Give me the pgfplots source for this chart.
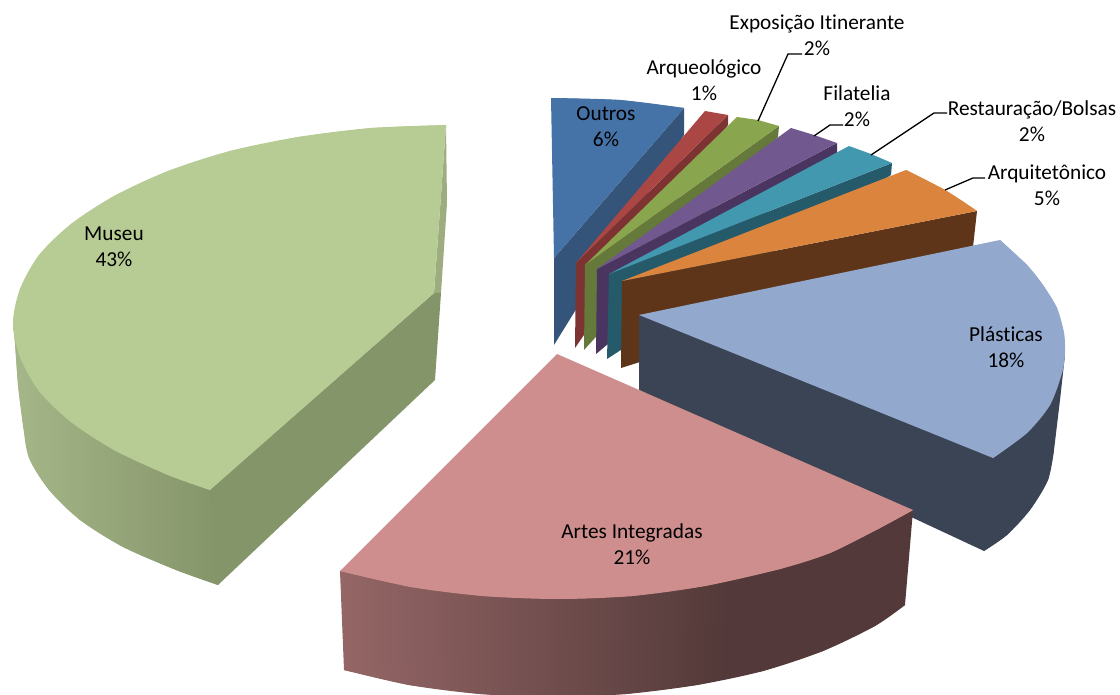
\documentclass[border=0pt]{standalone}
\usepackage{pgfplots}
\usepackage{fontspec}
\setmainfont[Ligatures=NoCommon]{Carlito}
\pgfplotsset{compat=1.18}
\tikzset{
  lbl/.style={font=\fontsize{21.3}{26}\selectfont, align=center, inner sep=0pt, anchor=center, text=black},
  lead/.style={draw=black, line width=1.3pt, fill=none},
}
\definecolor{outT}{HTML}{4573A7}\definecolor{outS}{HTML}{35547A}
\definecolor{redT}{HTML}{AA4644}\definecolor{redS}{HTML}{7D3332}
\definecolor{grnT}{HTML}{89A54E}\definecolor{grnS}{HTML}{64793A}
\definecolor{purT}{HTML}{71588F}\definecolor{purS}{HTML}{4A3560}
\definecolor{teaT}{HTML}{4298AF}\definecolor{teaS}{HTML}{255A6A}
\definecolor{ornT}{HTML}{DB843D}\definecolor{ornS}{HTML}{5F3519}
\definecolor{plaT}{HTML}{92A8CD}\definecolor{plaS}{HTML}{3A4454}
\definecolor{artT}{HTML}{CE8E8D}\definecolor{artL}{HTML}{956666}\definecolor{artD}{HTML}{533939}
\definecolor{musT}{HTML}{B7CC94}\definecolor{musL}{HTML}{A5B688}\definecolor{musD}{HTML}{85956A}\definecolor{musM}{HTML}{9DAD7F}
\pgfdeclarehorizontalshading{artshade}{100bp}{color(0bp)=(artL); color(25bp)=(artL); color(59bp)=(artD); color(100bp)=(artD)}
\begin{document}
\begin{tikzpicture}
\path[use as bounding box] (0,0) rectangle (1120pt,695pt);
\begin{axis}[
  scale only axis, width=1120pt, height=695pt, at={(0,0)}, anchor=south west,
  xmin=0, xmax=1120, ymin=0, ymax=695, y dir=reverse,
  hide axis, clip=true,
  every axis plot/.append style={draw=none, no markers},
]
% Outros
\addplot[fill=outS] coordinates {(684,108)(684,135)(554,345)(554,258)};
\addplot[fill=outT] coordinates {(551,98)(620,100)(684,108)(554,258)};
\addplot[fill=outT, smooth] coordinates {(551,98)(620,100)(684,108)};
% Arqueologico
\addplot[fill=redS] coordinates {(728,115)(728,125)(575,348)(576,263)};
\addplot[fill=redT] coordinates {(705,111)(728,115)(576,263)};
% Exposicao
\addplot[fill=grnS] coordinates {(779,126)(778,137)(584,350)(585,265)};
\addplot[fill=grnT] coordinates {(737,117)(758,120)(779,126)(585,265)};
% Filatelia
\addplot[fill=purS] coordinates {(837,143)(837,153)(596,354)(597,269)};
\addplot[fill=purT] coordinates {(791,128)(814,135)(837,143)(597,269)};
% Restauracao
\addplot[fill=teaS] coordinates {(892,163)(891,175)(607,359)(609,274)};
\addplot[fill=teaT] coordinates {(849,146)(871,154)(892,163)(609,274)};
% Arquitetonico
\addplot[fill=ornS] coordinates {(977,211)(973,247)(640,330)(640,362)(621,368)(622,281)};
\addplot[fill=ornT] coordinates {(906,170)(945,190)(977,211)(622,281)};
\addplot[fill=ornT, smooth] coordinates {(906,170)(945,190)(977,211)};
% Plasticas
\addplot[fill=plaS] coordinates {(639,315)(639,390)(984,551)(1007,535)(1030,510)(1048,480)(1054,450)(1060,400)(1065,355)};
\addplot[fill=plaS, smooth] coordinates {(984,551)(1007,535)(1030,510)(1048,480)(1054,450)};
\addplot[fill=plaT] coordinates {(1000,240)(1027,265)(1043,285)(1057,308)(1064,333)(1065,353)(1062,373)(1050,405)(1027,433)(993,458)(639,315)};
\addplot[fill=plaT, smooth] coordinates {(1000,240)(1027,265)(1043,285)(1057,308)(1064,333)(1065,353)(1062,373)(1050,405)(1027,433)(993,458)};
% Artes Integradas
\addplot[shading=artshade] coordinates {(340,571)(344,670)(409,685)(480,694)(553,697)(626,694)(697,685)(763,671)(823,651)(875,626)(905,605)(913,510)};
\addplot[shading=artshade, smooth] coordinates {(344,670)(409,685)(480,694)(553,697)(626,694)(697,685)(763,671)(823,651)(875,626)(905,605)};
\addplot[fill=artT] coordinates {(557,354)(913,510)(880,528)(830,553)(780,569)(705,586)(632,596)(558,599)(483,596)(411,587)(340,571)};
\addplot[fill=artT, smooth] coordinates {(913,510)(880,528)(830,553)(780,569)(705,586)(632,596)(558,599)(483,596)(411,587)(340,571)};
% Museu
\addplot[fill=musM] coordinates {(446,125)(447,203)(441,293)(434,293)};
\addplot[fill=musD] coordinates {(434,293)(441,293)(435,380)(218,585)(208,570)(208,491)};
\addplot[left color=musL, right color=musD] coordinates {(13,323)(15,343)(18,385)(23,425)(29,458)(49,490)(80,520)(123,547)(176,570)(218,585)(210,490)};
\addplot[left color=musL, right color=musD, smooth] coordinates {(13,323)(15,343)(18,385)(23,425)(29,458)(49,490)(80,520)(123,547)(176,570)(218,585)};
\addplot[fill=musT] coordinates {(446,125)(371,128)(298,137)(230,151)(168,171)(114,196)(71,224)(39,255)(20,289)(13,323)(20,357)(39,391)(71,422)(114,450)(168,475)(210,490)(434,293)};
\addplot[fill=musT, smooth] coordinates {(446,125)(371,128)(298,137)(230,151)(168,171)(114,196)(71,224)(39,255)(20,289)(13,323)(20,357)(39,391)(71,422)(114,450)(168,475)(210,490)};
% Leader lines
\addplot[lead] coordinates {(758,121)(788,54)(802,54)};
\addplot[lead] coordinates {(814,136)(830,125)(843,125)};
\addplot[lead] coordinates {(871,155)(934,113)(947,113)};
\addplot[lead] coordinates {(945,190)(973,178)(985,178)};
% Labels
\node[lbl] at (axis cs:817,35) {Exposição Itinerante\\2\%};
\node[lbl] at (axis cs:606,127) {Outros\\6\%};
\node[lbl] at (axis cs:704,80) {Arqueológico\\1\%};
\node[lbl] at (axis cs:857,106) {Filatelia\\2\%};
\node[lbl] at (axis cs:1032,121) {Restauração/Bolsas\\2\%};
\node[lbl] at (axis cs:1047,185) {Arquitetônico\\5\%};
\node[lbl] at (axis cs:1006,347) {Plásticas\\18\%};
\node[lbl] at (axis cs:632,544) {Artes Integradas\\21\%};
\node[lbl] at (axis cs:114,247) {Museu\\43\%};
\end{axis}
\end{tikzpicture}
\end{document}
